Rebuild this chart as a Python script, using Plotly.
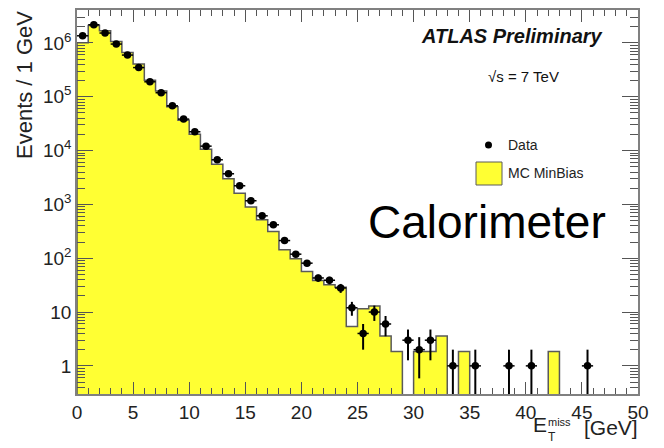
"""ATLAS missing ET (calorimeter) distribution, data vs MC MinBias."""

import numpy as np
import plotly.graph_objects as go

# 1 GeV bins from 0 to 50
bin_edges = list(range(0, 51))

data_counts = [1.36e6, 2.18e6, 1.53e6, 9.55e5, 5.96e5, 3.49e5, 1.90e5, 1.19e5, 6.8e4, 3.85e4,
               2.24e4, 1.21e4, 6750, 3710, 2220, 1170, 614, 418, 213, 119,
               81, 43, 39, 28, 12, 4, 10, 6, 0, 3,
               2, 3, 0, 1, 0, 1, 0, 0, 1, 0,
               1, 0, 0, 0, 0, 1, 0, 0, 0, 0]

mc_minbias = [1.01e6, 2.11e6, 1.69e6, 1.07e6, 6.65e5, 4.05e5, 2.03e5, 1.28e5, 6.52e4, 3.66e4,
              2.01e4, 1.06e4, 5560, 2990, 1610, 891, 517, 313, 143, 97.5,
              56.6, 38.5, 32, 29, 5.4, 11.5, 13, 3.6, 1.85, 0,
              1.85, 1.85, 3.6, 0, 1.85, 0, 0, 0, 0, 0,
              0, 0, 1.85, 0, 0, 0, 0, 0, 0, 0]

y_ticks = [1, 10, 100, 1e3, 1e4, 1e5, 1e6]
y_ticktext = ["1", "10", "10<sup>2</sup>", "10<sup>3</sup>", "10<sup>4</sup>",
              "10<sup>5</sup>", "10<sup>6</sup>"]

FONT = "Liberation Sans, Arial, sans-serif"
YELLOW = "#ffff33"
EDGE = "#5a5a5a"

# plot frame in pixels
W, H = 664, 448
L, R, T, B = 77, 638, 10, 394
Y_MIN, Y_MAX = 0.3, 4.1e6


def px(x):
    return (x - L) / (R - L)


def py(y):
    return (B - y) / (B - T)


edges = np.array(bin_edges, dtype=float)
centers = (edges[:-1] + edges[1:]) / 2
mc = np.array(mc_minbias, dtype=float)
dat = np.array(data_counts, dtype=float)

fig = go.Figure()

# filled histogram
fig.add_trace(go.Bar(
    x=centers, y=np.where(mc > 0, mc, np.nan), width=1.0,
    marker=dict(color=YELLOW, line=dict(width=0)),
    showlegend=False,
))

# histogram outline (steps, dropping to the floor where empty)
floor = Y_MIN / 10
step_x = np.repeat(edges, 2)[1:-1]
step_y = np.repeat(np.where(mc > 0, mc, floor), 2)
step_x = np.concatenate([[edges[0]], step_x, [edges[-1]]])
step_y = np.concatenate([[floor], step_y, [floor]])
fig.add_trace(go.Scatter(
    x=step_x, y=step_y, mode="lines",
    line=dict(color=EDGE, width=1.5), showlegend=False,
))

# data points with poisson errors
has = dat > 0
err = np.sqrt(dat[has])
err_lo = np.minimum(err, dat[has] * 0.9999)
fig.add_trace(go.Scatter(
    x=centers[has], y=dat[has], mode="markers",
    marker=dict(color="black", size=7.5),
    error_y=dict(type="data", array=err, arrayminus=err_lo,
                 color="black", thickness=2, width=0),
    error_x=dict(type="constant", value=0.5, color="black", thickness=1.5, width=0),
    showlegend=False,
))

axis_common = dict(
    showline=True, linecolor="#808080", linewidth=1.5, mirror="allticks",
    ticks="inside", tickcolor="#555555", tickwidth=1.2,
    showgrid=False, zeroline=False, automargin=False,
    tickfont=dict(family=FONT, size=19, color="#222222"),
)

fig.update_xaxes(
    range=[0, 50], tickvals=list(range(0, 51, 5)), ticklen=12,
    minor=dict(dtick=1, ticks="inside", ticklen=6, tickcolor="#555555", tickwidth=1.2),
    **axis_common,
)
fig.update_yaxes(
    type="log", range=[np.log10(Y_MIN), np.log10(Y_MAX)],
    tickvals=y_ticks, ticktext=y_ticktext, ticklen=16,
    minor=dict(dtick="D1", ticks="inside", ticklen=8, tickcolor="#555555", tickwidth=1.2),
    **axis_common,
)

annotations = [
    dict(text="<b><i>ATLAS Preliminary</i></b>", x=px(604), y=py(36),
         xanchor="right", yanchor="middle", font=dict(size=20, color="#111111")),
    dict(text="√s = 7 TeV", x=px(523), y=py(77), xanchor="center", yanchor="middle",
         font=dict(size=15, color="#111111")),
    dict(text="Data", x=px(507), y=py(145), xanchor="left", yanchor="middle",
         font=dict(size=14, color="#222222")),
    dict(text="MC MinBias", x=px(507), y=py(173), xanchor="left", yanchor="middle",
         font=dict(size=14, color="#222222")),
    dict(text="Calorimeter", x=px(367), y=py(222), xanchor="left", yanchor="middle",
         font=dict(size=46, color="black")),
    dict(text="Events / 1 GeV", x=px(24), y=py(10), xanchor="center", yanchor="top",
         textangle=-90, font=dict(size=22, color="#222222")),
    # x-axis title: E_T^miss [GeV]
    dict(text="E", x=px(532), y=py(424), xanchor="left", yanchor="middle",
         font=dict(size=21, color="#222222")),
    dict(text="miss", x=px(547), y=py(422), xanchor="left", yanchor="middle",
         font=dict(size=11, color="#222222")),
    dict(text="T", x=px(547), y=py(437), xanchor="left", yanchor="middle",
         font=dict(size=12, color="#222222")),
    dict(text="[GeV]", x=px(639), y=py(427), xanchor="right", yanchor="middle",
         font=dict(size=21, color="#222222")),
]
for a in annotations:
    a.update(xref="paper", yref="paper", showarrow=False, borderpad=0)
    a["font"]["family"] = FONT

shapes = [
    # legend swatch and marker
    dict(type="rect", x0=px(476), x1=px(502), y0=py(185), y1=py(162),
         fillcolor=YELLOW, line=dict(color=EDGE, width=1)),
    dict(type="circle", x0=px(485), x1=px(492), y0=py(148.5), y1=py(141.5),
         fillcolor="black", line=dict(color="black", width=0)),
]
for s in shapes:
    s.update(xref="paper", yref="paper")

fig.update_layout(
    width=W, height=H,
    margin=dict(l=L, r=W - R, t=T, b=H - B),
    paper_bgcolor="white", plot_bgcolor="white",
    bargap=0, annotations=annotations, shapes=shapes,
    font=dict(family=FONT),
)

# the page body has a default 8px margin; drop it so the figure fills the window
fig.write_html("out.html", config={"displayModeBar": False},
               post_script="document.body.style.margin = '0px';")
